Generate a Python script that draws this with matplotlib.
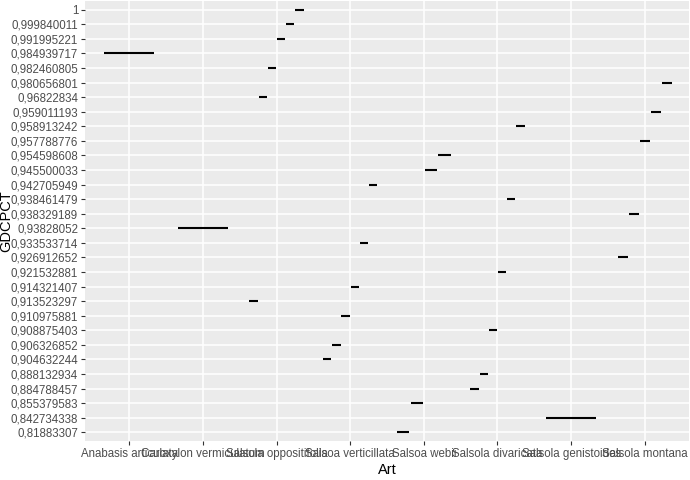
import matplotlib
matplotlib.use("Agg")
import matplotlib.pyplot as plt

plt.rcParams["font.family"] = ["Liberation Sans", "DejaVu Sans"]

# x categories (Art)
arts = ["Anabasis articulata", "Caroxylon vermiculatum", "Salsola oppositifolia",
        "Salsoa verticillata", "Salsoa webii", "Salsola divaricata",
        "Salsola genistoides", "Salsola montana"]

# y categories (GDCPCT, as printed) and the Art each value belongs to
gdcpct = ["1", "0,999840011", "0,991995221", "0,984939717", "0,982460805",
          "0,980656801", "0,96822834", "0,959011193", "0,958913242",
          "0,957788776", "0,954598608", "0,945500033", "0,942705949",
          "0,938461479", "0,938329189", "0,93828052", "0,933533714",
          "0,926912652", "0,921532881", "0,914321407", "0,913523297",
          "0,910975881", "0,908875403", "0,906326852", "0,904632244",
          "0,888132934", "0,884788457", "0,855379583", "0,842734338",
          "0,81883307"]
gdcpct_art = ["Salsola oppositifolia", "Salsola oppositifolia", "Salsola oppositifolia",
              "Anabasis articulata", "Salsola oppositifolia", "Salsola montana",
              "Salsola oppositifolia", "Salsola montana", "Salsola divaricata",
              "Salsola montana", "Salsoa webii", "Salsoa webii",
              "Salsoa verticillata", "Salsola divaricata", "Salsola montana",
              "Caroxylon vermiculatum", "Salsoa verticillata", "Salsola montana",
              "Salsola divaricata", "Salsoa verticillata", "Salsola oppositifolia",
              "Salsoa verticillata", "Salsola divaricata", "Salsoa verticillata",
              "Salsoa verticillata", "Salsola divaricata", "Salsola divaricata",
              "Salsoa webii", "Salsola genistoides", "Salsoa webii"]

def num(s):
    return float(s.replace(",", "."))

y_levels = sorted(gdcpct, key=num)
y_pos = {lab: i + 1 for i, lab in enumerate(y_levels)}
x_pos = {a: i + 1 for i, a in enumerate(arts)}

fig = plt.figure(figsize=(6.9, 4.8), dpi=100)
ax = fig.add_axes([85 / 690, 39 / 480, 604 / 690, 440 / 480])
ax.set_facecolor("#EBEBEB")

# dodged flat "boxes" (one value each) per Art
DODGE = 0.75
for art in arts:
    vals = sorted([g for g, a in zip(gdcpct, gdcpct_art) if a == art], key=num)
    n = len(vals)
    slot = DODGE / n
    for j, v in enumerate(vals):
        c = x_pos[art] - DODGE / 2 + (j + 0.5) * slot
        half = slot * 0.9 / 2
        ax.hlines(y_pos[v], c - half, c + half, color="black", lw=1.5,
                  capstyle="butt", zorder=3)

ax.set_xlim(0.4, len(arts) + 0.6)
ax.set_ylim(0.4, len(y_levels) + 0.6)
ax.set_xticks(range(1, len(arts) + 1))
ax.set_xticklabels(arts)
ax.set_yticks(range(1, len(y_levels) + 1))
ax.set_yticklabels(y_levels)

ax.grid(True, color="white", lw=1.1, zorder=0)
ax.set_axisbelow(True)
for s in ax.spines.values():
    s.set_visible(False)
ax.tick_params(axis="both", length=3, width=0.8, color="#333333",
               labelcolor="#4D4D4D", labelsize=8.3, pad=2)

ax.set_xlabel("Art", fontsize=10.5, labelpad=2)
ax.set_ylabel("GDCPCT", fontsize=10.5)
ax.yaxis.set_label_coords(-0.119, 0.5)

fig.savefig("out.png", dpi=100)
plt.close(fig)
